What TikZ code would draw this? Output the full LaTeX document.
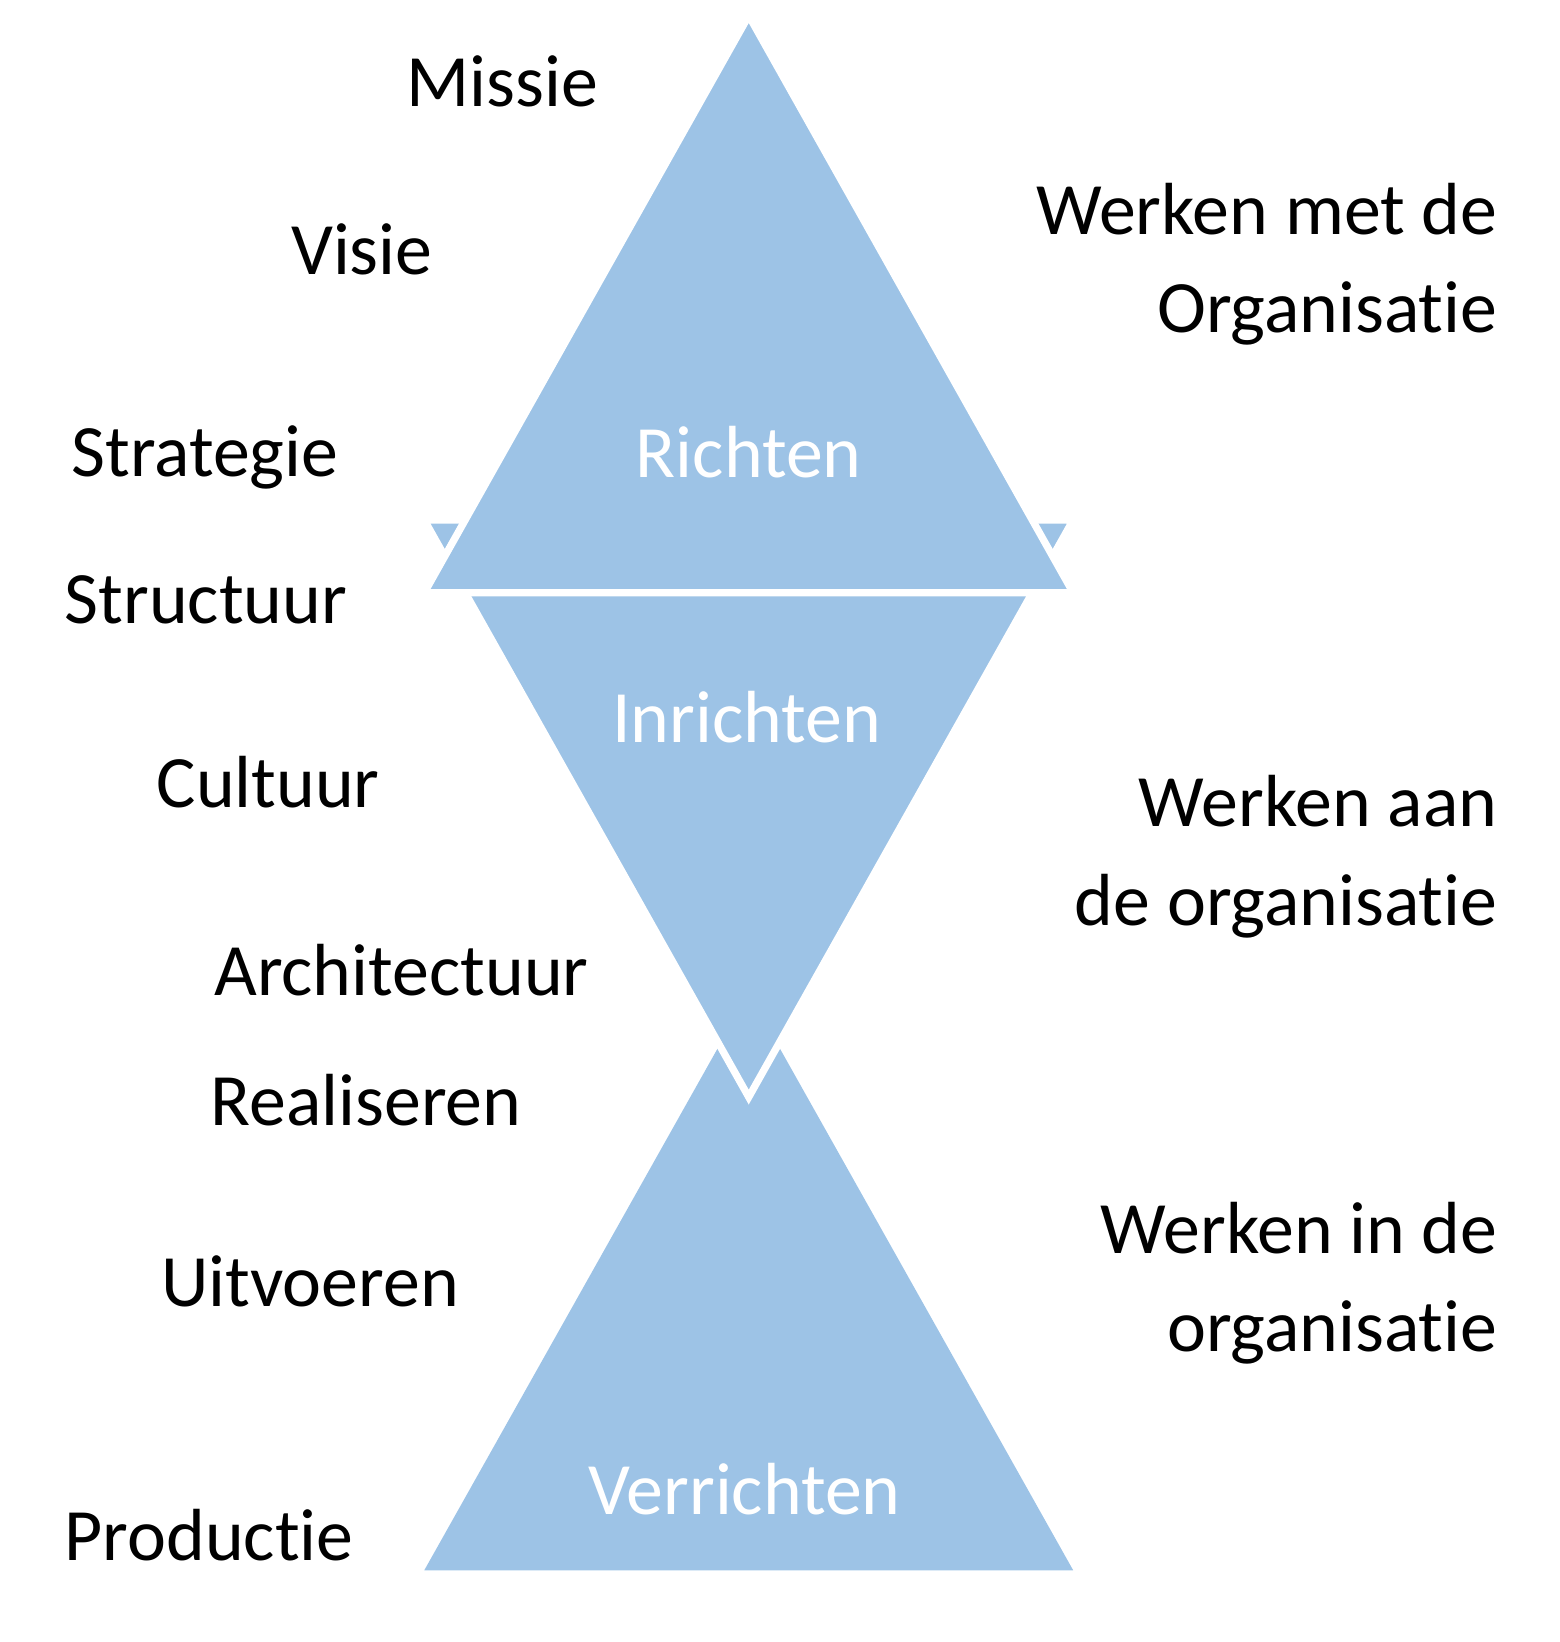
\documentclass[tikz,border=0pt]{standalone}
\usepackage{fontspec}
\setmainfont[Ligatures=NoCommon]{Carlito}
\definecolor{tri}{HTML}{9DC3E6}
\begin{document}
\begin{tikzpicture}[x=1pt,y=-1pt,
  tri/.style={fill=tri,draw=white,line width=7pt,line join=miter},
  lbl/.style={font=\fontsize{71}{80}\selectfont,text=black,inner sep=0pt},
  wl/.style={font=\fontsize{71}{80}\selectfont,text=white,inner sep=0pt},
  rl/.style={font=\fontsize{71}{95}\selectfont,align=right,anchor=east,inner sep=0pt}]
\useasboundingbox (0,0) rectangle (1500,1579);
\fill[fill=tri] (408,1510) -- (720,955) -- (1032,1510) -- cycle;
\draw[tri] (408,500) -- (1032,500) -- (720,1055) -- cycle;
\draw[tri] (408,570) -- (720,15) -- (1032,570) -- cycle;
\node[wl] (r) at (720,435) {Richten};
\node[wl] (i) at (718,690) {Inrichten};
\node[wl] (v) at (716,1432) {Verrichten};
\node[lbl] (m) at (483,78) {Missie};
\node[lbl] (vi) at (348,240) {Visie};
\node[lbl] (s) at (197,440) {Strategie};
\node[lbl] (st) at (198,577) {Structuur};
\node[lbl] (c) at (258,752) {Cultuur};
\node[lbl] (a) at (386,933) {Architectuur};
\node[lbl] (re) at (352,1058) {Realiseren};
\node[lbl] (u) at (298,1232) {Uitvoeren};
\node[lbl] (p) at (201,1476) {Productie};
\node[rl] (w1) at (1440,254) {Werken met de\\Organisatie};
\node[rl] (w2) at (1440,824) {Werken aan\\de organisatie};
\node[rl] (w3) at (1440,1234) {Werken in de\\organisatie};
\end{tikzpicture}
\end{document}
